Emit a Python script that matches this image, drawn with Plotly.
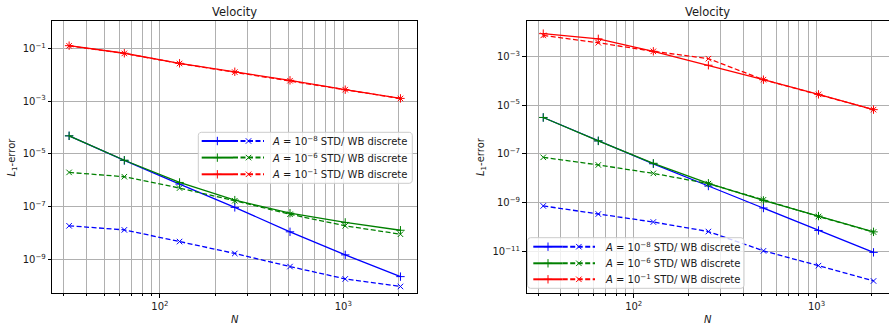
import numpy as np
import plotly.graph_objects as go

# ---------------- data ----------------
N = [32, 64, 128, 256, 512, 1024, 2048]

# left panel
left_std_a8 = [4.8e-5, 5.6e-6, 7.1e-7, 9.3e-8, 1.1e-8, 1.47e-9, 2.2e-10]
left_wb_a8 = [1.86e-8, 1.3e-8, 4.7e-9, 1.66e-9, 5.3e-10, 1.8e-10, 9.3e-11]
left_std_a6 = [4.8e-5, 5.7e-6, 8.2e-7, 1.75e-7, 5.6e-8, 2.5e-8, 1.26e-8]
left_wb_a6 = [1.97e-6, 1.35e-6, 5.0e-7, 1.66e-7, 5.1e-8, 1.86e-8, 8.9e-9]
left_std_a1 = [0.126, 0.065, 0.027, 0.0129, 0.0061, 0.0027, 0.00126]
left_wb_a1 = [0.124, 0.064, 0.0265, 0.0125, 0.0059, 0.0027, 0.00125]

# right panel
right_std_a8 = [3.1e-6, 3.4e-7, 3.9e-8, 4.8e-9, 6.0e-10, 7.2e-11, 9.1e-12]
right_wb_a8 = [7.3e-10, 3.4e-10, 1.6e-10, 6.5e-11, 1.05e-11, 2.6e-12, 6.1e-13]
right_std_a6 = [3.1e-6, 3.4e-7, 4.1e-8, 6.2e-9, 1.23e-9, 2.8e-10, 6.3e-11]
right_wb_a6 = [7.2e-8, 3.5e-8, 1.58e-8, 6.0e-9, 1.3e-9, 2.7e-10, 6.2e-11]
right_std_a1 = [8.5e-3, 5.2e-3, 1.6e-3, 4.3e-4, 1.1e-4, 2.75e-5, 6.5e-6]
right_wb_a1 = [7.2e-3, 3.6e-3, 1.6e-3, 8.0e-4, 1.1e-4, 2.75e-5, 6.5e-6]

amplitude_exps = ["−8", "−6", "−1"]
colors = ["#0000ff", "#008000", "#ff0000"]

x_major = [100, 1000]
x_major_text = ["10<sup>2</sup>", "10<sup>3</sup>"]
x_minor = [30, 40, 50, 60, 70, 80, 90, 200, 300, 400, 500, 600, 700, 800, 900, 2000]
left_y_exps = [-1, -3, -5, -7, -9]
right_y_exps = [-3, -5, -7, -9, -11]

# ---------------- layout constants ----------------
W, H = 889, 328
FONT = "DejaVu Sans"
TXT = "#1a1a1a"
GRID = "#b0b0b0"
LW = 1.3
PLUS = dict(symbol="cross-thin-open", size=6)
CROSS = dict(symbol="x-thin-open", size=5.5)

ax_top, ax_bot = 21.3, 293.3
left_px = (52.3, 417.0)
right_px = (526.5, 889.0)

fig = go.Figure()

panels = [
    dict(xa="x", ya="y",
         series=[(left_std_a8, left_wb_a8), (left_std_a6, left_wb_a6), (left_std_a1, left_wb_a1)]),
    dict(xa="x2", ya="y2",
         series=[(right_std_a8, right_wb_a8), (right_std_a6, right_wb_a6), (right_std_a1, right_wb_a1)]),
]

for p in panels:
    for (std, wb), c in zip(p["series"], colors):
        fig.add_trace(go.Scatter(
            x=N, y=std, mode="lines+markers", xaxis=p["xa"], yaxis=p["ya"],
            line=dict(color=c, width=LW),
            marker=dict(PLUS, color=c, line=dict(color=c, width=1)),
            showlegend=False, hoverinfo="skip"))
        fig.add_trace(go.Scatter(
            x=N, y=wb, mode="lines+markers", xaxis=p["xa"], yaxis=p["ya"],
            line=dict(color=c, width=LW, dash="5px,2.5px"),
            marker=dict(CROSS, color=c, line=dict(color=c, width=1)),
            showlegend=False, hoverinfo="skip"))


def sup_labels(exps):
    return ["10<sup>" + str(e).replace("-", "−") + "</sup>" for e in exps]


def xaxis_cfg(px, rng):
    return dict(
        type="log", domain=[px[0] / W, px[1] / W], range=rng,
        tickmode="array", tickvals=x_major, ticktext=x_major_text,
        ticks="outside", ticklen=3.5, tickwidth=0.8, tickcolor="black",
        showgrid=True, gridcolor=GRID, gridwidth=0.8,
        minor=dict(tickmode="array", tickvals=x_minor, ticks="outside", ticklen=2,
                   tickwidth=0.6, tickcolor="black", showgrid=True,
                   gridcolor=GRID, gridwidth=0.8),
        showline=True, linecolor="black", linewidth=1, mirror=True,
        tickfont=dict(family=FONT, size=10, color=TXT),
        zeroline=False, fixedrange=True)


def yaxis_cfg(exps, rng, mirror):
    return dict(
        type="log", domain=[1 - ax_bot / H, 1 - ax_top / H], range=rng,
        tickmode="array", tickvals=[10.0 ** e for e in exps], ticktext=sup_labels(exps),
        ticks="outside", ticklen=3.5, tickwidth=0.8, tickcolor="black",
        showgrid=True, gridcolor=GRID, gridwidth=0.8,
        showline=True, linecolor="black", linewidth=1, mirror=mirror,
        tickfont=dict(family=FONT, size=10, color=TXT),
        zeroline=False, fixedrange=True)


fig.update_layout(
    width=W, height=H,
    margin=dict(l=0, r=0, t=0, b=0),
    paper_bgcolor="white", plot_bgcolor="rgba(0,0,0,0)",
    showlegend=False,
    xaxis=dict(xaxis_cfg(left_px, [1.4135, 3.4015]), anchor="y"),
    yaxis=dict(yaxis_cfg(left_y_exps, [-10.29, 0.024], True), anchor="x"),
    xaxis2=dict(xaxis_cfg(right_px, [1.4135, 3.396]), anchor="y2"),
    yaxis2=dict(yaxis_cfg(right_y_exps, [-12.72, -1.564], False), anchor="x2"),
    # pixel-space overlay used for the custom legends
    xaxis3=dict(domain=[0, 1], range=[0, W], visible=False, fixedrange=True, anchor="y3"),
    yaxis3=dict(domain=[0, 1], range=[H, 0], visible=False, fixedrange=True, anchor="x3"),
)

annotations = []


def label(xpx, ypx, text, size, angle=0):
    annotations.append(dict(x=xpx / W, y=1 - ypx / H, xref="paper", yref="paper",
                            xanchor="center", yanchor="middle", text=text,
                            textangle=angle, showarrow=False,
                            font=dict(family=FONT, size=size, color=TXT)))


# titles and axis labels
for px in (left_px, right_px):
    cx = (px[0] + min(px[1], 890.0)) / 2
    label(cx, 12, "Velocity", 11.5)
    label(cx, 319, "<i>N</i>", 10)
for xlab in (11.5, 481.0):
    label(xlab, 157, "<i>L</i><sub>1</sub>-error", 10, angle=-90)


def rounded_box(x0, y0, x1, y1, r=3.0):
    xs, ys = [], []
    corners = [(x1 - r, y0 + r, -90, 0), (x1 - r, y1 - r, 0, 90),
               (x0 + r, y1 - r, 90, 180), (x0 + r, y0 + r, 180, 270)]
    for cx, cy, a0, a1 in corners:
        t = np.radians(np.linspace(a0, a1, 6))
        xs += list(cx + r * np.cos(t))
        ys += list(cy + r * np.sin(t))
    xs.append(xs[0])
    ys.append(ys[0])
    return xs, ys


def draw_legend(box, rows, solid_x, dash_x, text_x):
    bx, by = rounded_box(*box)
    fig.add_trace(go.Scatter(x=bx, y=by, xaxis="x3", yaxis="y3", mode="lines",
                             fill="toself", fillcolor="rgba(255,255,255,0.8)",
                             line=dict(color="#cccccc", width=1),
                             showlegend=False, hoverinfo="skip"))
    for yy, c, ex in zip(rows, colors, amplitude_exps):
        fig.add_trace(go.Scatter(x=list(solid_x), y=[yy, yy], xaxis="x3", yaxis="y3",
                                 mode="lines", line=dict(color=c, width=2),
                                 showlegend=False, hoverinfo="skip"))
        fig.add_trace(go.Scatter(x=[sum(solid_x) / 2], y=[yy], xaxis="x3", yaxis="y3",
                                 mode="markers",
                                 marker=dict(PLUS, color=c, line=dict(color=c, width=1)),
                                 showlegend=False, hoverinfo="skip"))
        fig.add_trace(go.Scatter(x=list(dash_x), y=[yy, yy], xaxis="x3", yaxis="y3",
                                 mode="lines", line=dict(color=c, width=2, dash="5px,2.5px"),
                                 showlegend=False, hoverinfo="skip"))
        fig.add_trace(go.Scatter(x=[sum(dash_x) / 2], y=[yy], xaxis="x3", yaxis="y3",
                                 mode="markers",
                                 marker=dict(CROSS, color=c, line=dict(color=c, width=1)),
                                 showlegend=False, hoverinfo="skip"))
        annotations.append(dict(x=text_x, y=yy, xref="x3", yref="y3",
                                xanchor="left", yanchor="middle",
                                text="<i>A</i> = 10<sup>" + ex + "</sup> STD/ WB discrete",
                                showarrow=False,
                                font=dict(family=FONT, size=10, color=TXT)))


draw_legend((198.3, 132.3, 412.3, 183.3), [141.0, 157.6, 174.3],
            (201.7, 233.0), (233.0, 264.0), 269.5)
draw_legend((527.5, 237.7, 744.0, 288.3), [246.7, 263.3, 279.3],
            (533.3, 562.7), (562.7, 595.0), 603.0)

fig.update_layout(annotations=annotations)
fig.write_html("out.html")
